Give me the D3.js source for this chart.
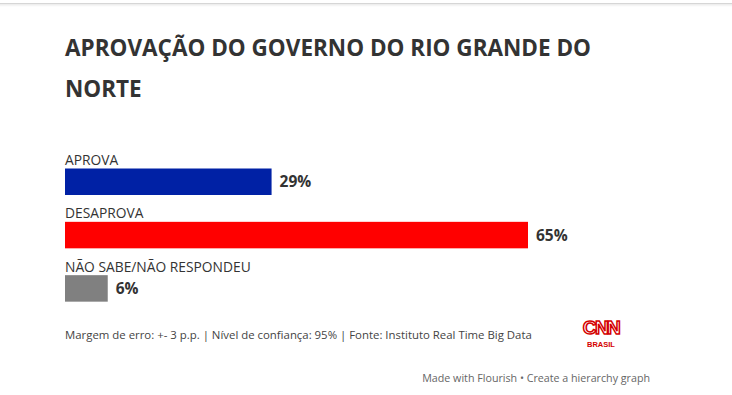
<!DOCTYPE html>
<html><head><meta charset="utf-8">
<script src="https://cdn.jsdelivr.net/npm/d3@7"></script>
<style>
html,body{margin:0;padding:0;background:#fff;}
svg{display:block;}
</style></head>
<body>
<script>
const categories = ["APROVA", "DESAPROVA", "NÃO SABE/NÃO RESPONDEU"];
const values = [29, 65, 6];
const colors = ["#0021a5", "#ff0000", "#808080"];
const titleLines = ["APROVAÇÃO DO GOVERNO DO RIO GRANDE DO", "NORTE"];
const footnote = "Margem de erro: +- 3 p.p. | Nível de confiança: 95% | Fonte: Instituto Real Time Big Data";
const credit = "Made with Flourish • Create a hierarchy graph";

const W = 732, H = 395;
const svg = d3.select("body").append("svg").attr("width", W).attr("height", H);

// top border with soft shadow
const defs = svg.append("defs");
const g = defs.append("linearGradient").attr("id","sh").attr("x1",0).attr("x2",0).attr("y1",0).attr("y2",1);
g.append("stop").attr("offset",0).attr("stop-color","#000").attr("stop-opacity",0.08);
g.append("stop").attr("offset",1).attr("stop-color","#000").attr("stop-opacity",0);
svg.append("rect").attr("x",0).attr("y",3).attr("width",W).attr("height",1).attr("fill","#d6d6d6");
svg.append("rect").attr("x",0).attr("y",4).attr("width",W).attr("height",3).attr("fill","url(#sh)");

const font = "'Open Sans', sans-serif";

svg.append("g").selectAll("text").data(titleLines).join("text")
  .attr("x", 65).attr("y", (d,i) => 56 + i*41)
  .attr("font-family", font).attr("font-weight", 700).attr("font-size", 22.5)
  .attr("fill", "#333").text(d => d);

const x = d3.scaleLinear().domain([0, 65]).range([65, 528]);
const y = d3.scaleBand().domain(categories).range([151, 311]).paddingInner(0).paddingOuter(0);

const rows = svg.append("g").selectAll("g").data(categories).join("g")
  .attr("transform", d => `translate(0,${y(d)})`);

rows.append("text").attr("x", 65).attr("y", 14)
  .attr("font-family", font).attr("font-size", 13.8).attr("fill", "#333")
  .text(d => d);

rows.append("rect").attr("x", x(0)).attr("y", 17.5)
  .attr("width", (d,i) => x(values[i]) - x(0)).attr("height", 26.5)
  .attr("fill", (d,i) => colors[i]);

rows.append("text").attr("x", (d,i) => x(values[i]) + 8).attr("y", 31)
  .attr("dy", "0.35em")
  .attr("font-family", font).attr("font-weight", 700).attr("font-size", 15.5)
  .attr("fill", "#333").text((d,i) => values[i] + "%");

svg.append("text").attr("x", 65).attr("y", 339)
  .attr("font-family", font).attr("font-size", 11.4).attr("fill", "#444")
  .text(footnote);

// CNN Brasil logo as text
svg.append("text").attr("x", 601).attr("y", 334).attr("text-anchor","middle")
  .attr("font-family", "'Liberation Sans', Arial, sans-serif").attr("font-weight", 700)
  .attr("font-size", 19).attr("letter-spacing", -1.5).attr("fill", "none")
  .attr("stroke", "#d40000").attr("stroke-width", 1.5).text("CNN");
svg.append("text").attr("x", 601).attr("y", 347).attr("text-anchor","middle")
  .attr("font-family", "'Liberation Sans', Arial, sans-serif").attr("font-weight", 700)
  .attr("font-size", 7.5).attr("fill", "#d40000").text("BRASIL");

svg.append("text").attr("x", 650).attr("y", 382).attr("text-anchor","end")
  .attr("font-family", font).attr("font-size", 10.7).attr("fill", "#666")
  .text(credit);
</script>
</body></html>
